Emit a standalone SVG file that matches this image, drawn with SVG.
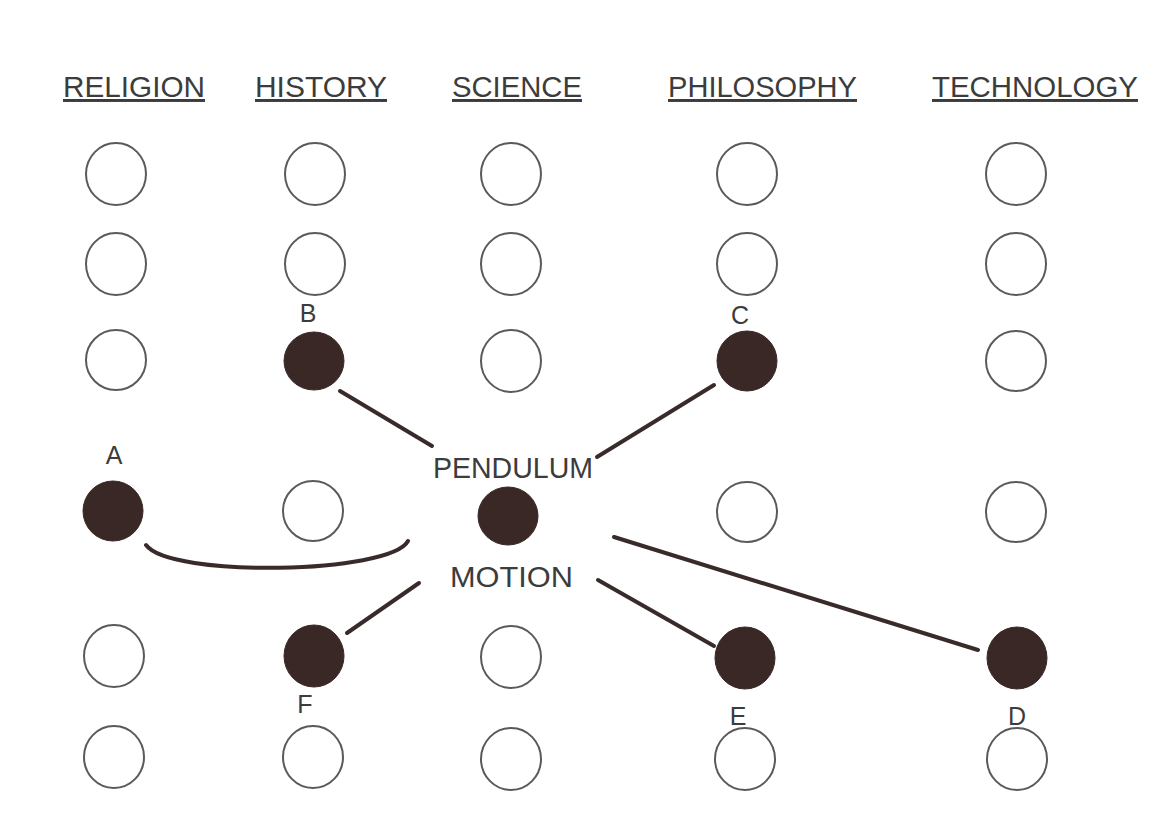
<svg xmlns="http://www.w3.org/2000/svg" width="1164" height="816" viewBox="0 0 1164 816">
  <style>
    .hdr { font-family: "Liberation Sans", Arial, sans-serif; font-size: 29.5px; fill: #3c3c3c; text-decoration: underline; }
    .lbl { font-family: "Liberation Sans", Arial, sans-serif; font-size: 25px; fill: #3c3c3c; }
    .concept { font-family: "Liberation Sans", Arial, sans-serif; font-size: 29px; fill: #3c3c3c; }
    .open { fill: #ffffff; stroke: #5a5a5a; stroke-width: 2; }
    .full { fill: #3a2827; stroke: #3a2827; stroke-width: 1; }
    .link { fill: none; stroke: #3a2b2b; stroke-width: 4; stroke-linecap: round; }
  </style>
  <rect width="1164" height="816" fill="#ffffff"/>

  <!-- column headings -->
  <g id="headings">
    <text class="hdr" x="63" y="97" textLength="142" lengthAdjust="spacingAndGlyphs">RELIGION</text>
    <text class="hdr" x="255" y="97" textLength="132" lengthAdjust="spacingAndGlyphs">HISTORY</text>
    <text class="hdr" x="452" y="97" textLength="130" lengthAdjust="spacingAndGlyphs">SCIENCE</text>
    <text class="hdr" x="668" y="97" textLength="189" lengthAdjust="spacingAndGlyphs">PHILOSOPHY</text>
    <text class="hdr" x="932" y="97" textLength="206" lengthAdjust="spacingAndGlyphs">TECHNOLOGY</text>
  </g>

  <!-- connectors -->
  <g id="connectors">
    <line class="link" x1="340" y1="391" x2="432" y2="446"/>
    <line class="link" x1="714" y1="385" x2="597" y2="457"/>
    <path class="link" d="M146 545 C 170 578, 390 574, 408 541"/>
    <line class="link" x1="419" y1="583" x2="347" y2="633"/>
    <line class="link" x1="598" y1="580" x2="714" y2="646"/>
    <line class="link" x1="614" y1="537" x2="978" y2="650"/>
  </g>

  <!-- concept labels -->
  <g id="pendulum"><text class="concept" x="433" y="478" textLength="160" lengthAdjust="spacingAndGlyphs">PENDULUM</text></g>
  <g id="motion"><text class="concept" x="450" y="587" textLength="123" lengthAdjust="spacingAndGlyphs">MOTION</text></g>

  <!-- row 1 -->
  <g id="r1c1"><ellipse class="open" cx="116" cy="174" rx="30" ry="31"/></g>
  <g id="r1c2"><ellipse class="open" cx="315" cy="174" rx="30" ry="31"/></g>
  <g id="r1c3"><ellipse class="open" cx="511" cy="174" rx="30" ry="31"/></g>
  <g id="r1c4"><ellipse class="open" cx="747" cy="174" rx="30" ry="31"/></g>
  <g id="r1c5"><ellipse class="open" cx="1016" cy="174" rx="30" ry="31"/></g>

  <!-- row 2 -->
  <g id="r2c1"><ellipse class="open" cx="116" cy="264" rx="30" ry="31"/></g>
  <g id="r2c2"><ellipse class="open" cx="315" cy="264" rx="30" ry="31"/></g>
  <g id="r2c3"><ellipse class="open" cx="511" cy="264" rx="30" ry="31"/></g>
  <g id="r2c4"><ellipse class="open" cx="747" cy="264" rx="30" ry="31"/></g>
  <g id="r2c5"><ellipse class="open" cx="1016" cy="264" rx="30" ry="31"/></g>

  <!-- row 3 -->
  <g id="r3c1"><ellipse class="open" cx="116" cy="360" rx="30" ry="30"/></g>
  <g id="nodeB"><ellipse class="full" cx="314" cy="361" rx="30" ry="29"/><text class="lbl" x="308" y="322" text-anchor="middle">B</text></g>
  <g id="r3c3"><ellipse class="open" cx="511" cy="361" rx="30" ry="31"/></g>
  <g id="nodeC"><ellipse class="full" cx="747" cy="361" rx="30" ry="30"/><text class="lbl" x="740" y="324" text-anchor="middle">C</text></g>
  <g id="r3c5"><ellipse class="open" cx="1016" cy="361" rx="30" ry="30"/></g>

  <!-- row 4 -->
  <g id="nodeA"><ellipse class="full" cx="113" cy="511" rx="30" ry="30"/><text class="lbl" x="114" y="464" text-anchor="middle">A</text></g>
  <g id="r4c2"><ellipse class="open" cx="313" cy="511" rx="30" ry="30"/></g>
  <g id="science-node"><ellipse class="full" cx="508" cy="516" rx="30" ry="29"/></g>
  <g id="r4c4"><ellipse class="open" cx="747" cy="512" rx="30" ry="30"/></g>
  <g id="r4c5"><ellipse class="open" cx="1016" cy="512" rx="30" ry="30"/></g>

  <!-- row 5 -->
  <g id="r5c1"><ellipse class="open" cx="114" cy="656" rx="30" ry="31"/></g>
  <g id="nodeF"><ellipse class="full" cx="314" cy="656" rx="30" ry="31"/><text class="lbl" x="305" y="713" text-anchor="middle">F</text></g>
  <g id="r5c3"><ellipse class="open" cx="511" cy="657" rx="30" ry="31"/></g>
  <g id="nodeE"><ellipse class="full" cx="745" cy="658" rx="30" ry="31"/><text class="lbl" x="738" y="725" text-anchor="middle">E</text></g>
  <g id="nodeD"><ellipse class="full" cx="1017" cy="658" rx="30" ry="31"/><text class="lbl" x="1017" y="725" text-anchor="middle">D</text></g>

  <!-- row 6 -->
  <g id="r6c1"><ellipse class="open" cx="114" cy="757" rx="30" ry="31"/></g>
  <g id="r6c2"><ellipse class="open" cx="313" cy="757" rx="30" ry="31"/></g>
  <g id="r6c3"><ellipse class="open" cx="511" cy="759" rx="30" ry="31"/></g>
  <g id="r6c4"><ellipse class="open" cx="745" cy="759" rx="30" ry="31"/></g>
  <g id="r6c5"><ellipse class="open" cx="1017" cy="759" rx="30" ry="31"/></g>
</svg>
